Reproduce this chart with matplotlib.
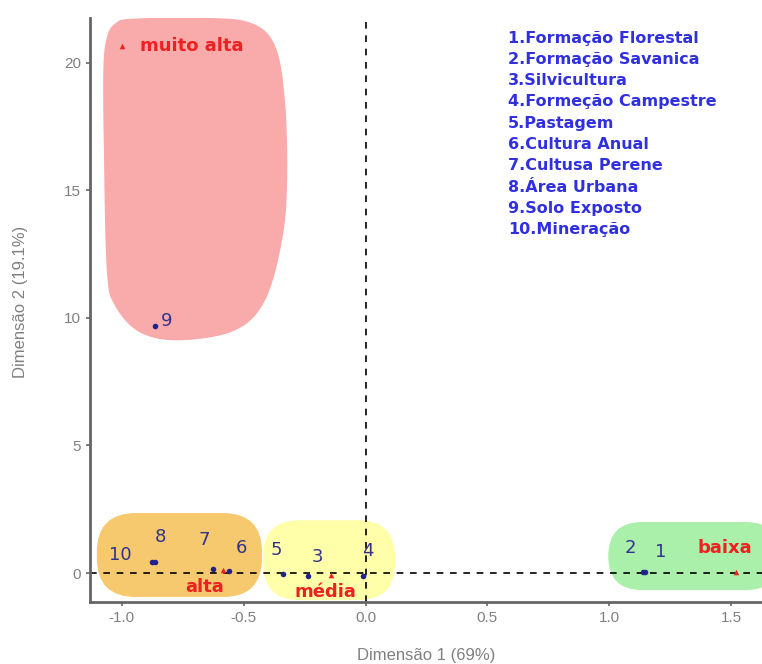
import numpy as np
import matplotlib
matplotlib.use("Agg")
import matplotlib.pyplot as plt
from matplotlib.patches import FancyBboxPatch, Polygon

plt.rcParams['font.family'] = ['Liberation Sans', 'DejaVu Sans']
plt.rcParams['axes.unicode_minus'] = False

# Land-use classes (row coordinates of the correspondence analysis)
class_ids = ['1', '2', '3', '4', '5', '6', '7', '8', '9', '10']
class_names = ['Formação Florestal', 'Formação Savanica', 'Silvicultura',
               'Formeção Campestre', 'Pastagem', 'Cultura Anual',
               'Cultusa Perene', 'Área Urbana', 'Solo Exposto', 'Mineração']
dim1 = [1.148, 1.140, -0.238, -0.012, -0.340, -0.560, -0.626, -0.864, -0.864, -0.875]
dim2 = [0.04, 0.04, -0.12, -0.12, -0.04, 0.08, 0.16, 0.43, 9.70, 0.45]

# Vulnerability levels (column coordinates)
levels = ['muito alta', 'alta', 'média', 'baixa']
lvl_dim1 = [-1.000, -0.585, -0.140, 1.520]
lvl_dim2 = [20.67, 0.10, -0.08, 0.04]

# label offsets (pixels) to keep the text off the markers
class_offsets = [(15, 20), (-13, 24), (10, 19), (5, 25), (-6, 24),
                 (12, 23), (-9, 29), (5, 25), (12, 5), (-32, 7)]
level_offsets = [(18, 0), (-18, -17), (-6, -17), (-11, 24)]
level_ha = ['left', 'center', 'center', 'center']

fig = plt.figure(figsize=(7.62, 6.64), dpi=100)
ax = fig.add_axes([90 / 762, 62 / 664, 672 / 762, 584 / 664])

xlim = (-1.131, 1.627)
ylim = (-1.135, 21.75)
ax.set_xlim(*xlim)
ax.set_ylim(*ylim)

# data-units-per-pixel ratio, used to keep rounded corners circular on screen
aspect = (ylim[1] - ylim[0]) / 584 / ((xlim[1] - xlim[0]) / 672)


def rounded_box(x0, x1, y0, y1, r, color):
    box = FancyBboxPatch((x0, y0), x1 - x0, y1 - y0,
                         boxstyle=f"round,pad=0,rounding_size={r}",
                         mutation_aspect=aspect, facecolor=color,
                         edgecolor='none', zorder=0)
    ax.add_patch(box)


def smooth_closed(pts, n=30):
    pts = np.asarray(pts)
    m = len(pts)
    out = []
    for i in range(m):
        p0, p1, p2, p3 = pts[i - 1], pts[i], pts[(i + 1) % m], pts[(i + 2) % m]
        t = np.linspace(0, 1, n, endpoint=False)[:, None]
        out.append(0.5 * ((2 * p1) + (-p0 + p2) * t
                          + (2 * p0 - 5 * p1 + 4 * p2 - p3) * t ** 2
                          + (-p0 + 3 * p1 - 3 * p2 + p3) * t ** 3))
    return np.vstack(out)


# group envelopes
red_outline = [(-0.960, 21.72), (-0.680, 21.76), (-0.474, 21.57), (-0.372, 20.67),
               (-0.331, 18.51), (-0.322, 15.38), (-0.343, 13.03), (-0.413, 10.68),
               (-0.536, 9.51), (-0.762, 9.12), (-0.926, 9.43), (-1.029, 10.49),
               (-1.062, 11.86), (-1.074, 16.56), (-1.076, 19.80), (-1.060, 21.05),
               (-1.025, 21.55)]
ax.add_patch(Polygon(smooth_closed(red_outline), closed=True,
                     facecolor='#F9AAAA', edgecolor='none', zorder=0))
rounded_box(-1.103, -0.425, -0.94, 2.35, 0.16, '#F6C96E')
rounded_box(-0.421, 0.121, -1.06, 2.07, 0.15, '#FFFFAA')
rounded_box(0.996, 1.70, -0.67, 2.00, 0.14, '#AAF0AA')

# reference lines
ax.axhline(0, color='black', lw=1.2, ls=(0, (4, 4)), zorder=1)
ax.axvline(0, color='black', lw=1.2, ls=(0, (4, 4)), zorder=1)

# markers
ax.scatter(dim1, dim2, marker='o', s=16, color='#22228C', zorder=3, linewidths=0)
ax.scatter(lvl_dim1, lvl_dim2, marker='^', s=16, color='#EE2020', zorder=3, linewidths=0)

for x, y, t, off in zip(dim1, dim2, class_ids, class_offsets):
    ax.annotate(t, (x, y), xytext=off, textcoords='offset pixels',
                ha='center', va='center', fontsize=13, family='DejaVu Sans',
                color='#33338C', zorder=4)

for x, y, t, off, ha in zip(lvl_dim1, lvl_dim2, levels, level_offsets, level_ha):
    ax.annotate(t, (x, y), xytext=off, textcoords='offset pixels',
                ha=ha, va='center', fontsize=13, fontweight='bold',
                family='DejaVu Sans', color='#EE2020', zorder=4)

# class key
for i, (cid, name) in enumerate(zip(class_ids, class_names)):
    ax.text(508 / 762, 1 - (38 + i * 21.3) / 664, f"{cid}.{name}",
            transform=fig.transFigure, ha='left', va='center',
            fontsize=11.5, fontweight='bold', family='DejaVu Sans',
            color='#3030E0')

# axes styling
for side in ('top', 'right'):
    ax.spines[side].set_visible(False)
for side in ('left', 'bottom'):
    ax.spines[side].set_color('#666666')
    ax.spines[side].set_linewidth(2)
ax.set_xticks([-1.0, -0.5, 0.0, 0.5, 1.0, 1.5])
ax.set_yticks([0, 5, 10, 15, 20])
ax.tick_params(colors='#666666', labelcolor='#808080', labelsize=11,
               length=3, width=1.2)
ax.set_xlabel('Dimensão 1 (69%)', fontsize=12, color='#808080')
ax.set_ylabel('Dimensão 2 (19.1%)', fontsize=12, color='#808080')
ax.xaxis.set_label_coords(0.5, -(648 - 602) / 584)
ax.yaxis.set_label_coords((28 - 90) / 672, (602 - 302) / 584)

fig.savefig('out.png', dpi=100)
